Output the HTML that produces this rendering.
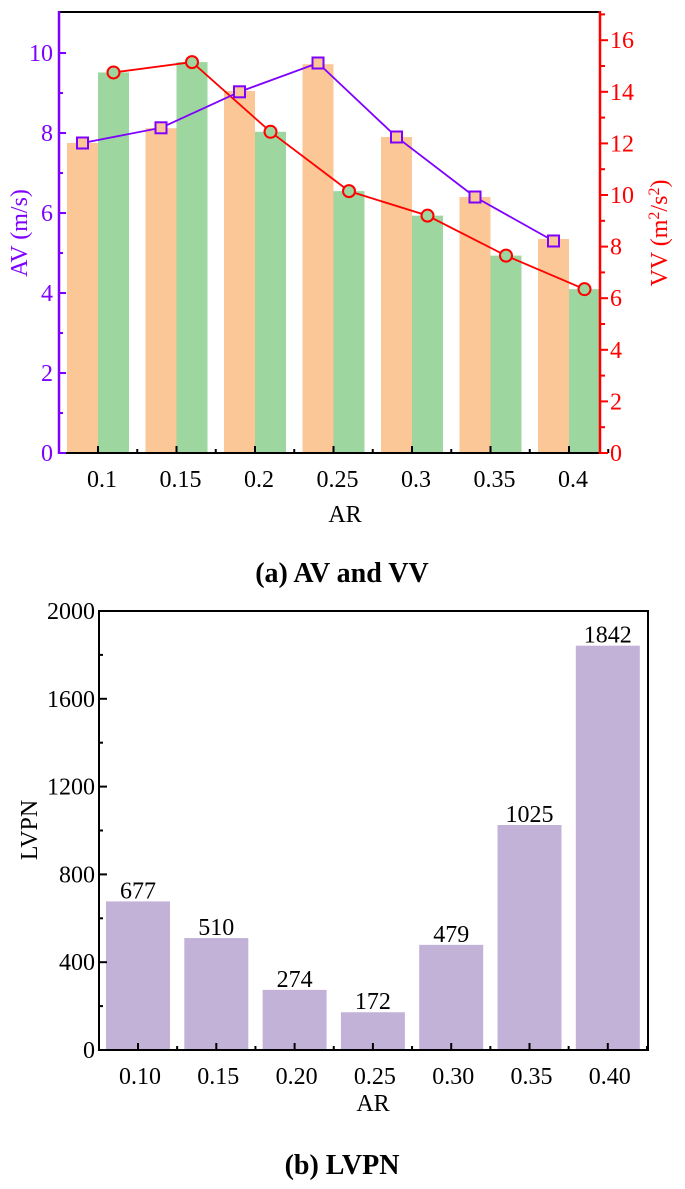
<!DOCTYPE html>
<html><head><meta charset="utf-8"><style>
html,body{margin:0;padding:0;background:#fff;}
svg{display:block;font-family:"Liberation Serif",serif;}
</style></head><body>
<svg id="c" width="685" height="1189" viewBox="0 0 685 1189"></svg>
<script>
const catsA=["0.1","0.15","0.2","0.25","0.3","0.35","0.4"];
const avBars=[7.75,8.12,9.05,9.72,7.9,6.4,5.35];
const avLine=[7.75,8.13,9.03,9.75,7.9,6.4,5.3];
const vvVals=[14.75,15.15,12.45,10.15,9.2,7.65,6.35];
const avTicks=[0,2,4,6,8,10];
const vvTicks=[0,2,4,6,8,10,12,14,16];
const catsB=["0.10","0.15","0.20","0.25","0.30","0.35","0.40"];
const lvpn=[677,510,274,172,479,1025,1842];
const lvpnTicks=[0,400,800,1200,1600,2000];

const NS="http://www.w3.org/2000/svg";
const svg=document.getElementById('c');
const FS=24;
function mk(tag,attrs,parent,txt){const e=document.createElementNS(NS,tag);for(const k in attrs)e.setAttribute(k,attrs[k]);if(txt!==undefined)e.textContent=txt;(parent||svg).appendChild(e);return e;}

// ---- chart A ----
const gA=mk('g',{});


const A={l:59,r:600,t:12,b:453};
const xA=i=>98+i*78.5;
const yL=v=>A.b-v*40;
const yR=v=>A.b-v*25.8;
const bw=31;
avBars.forEach((v,i)=>{const r=mk('rect',{x:xA(i)-bw,y:yL(v),width:bw,height:A.b-yL(v),fill:'#fbc796'},gA);

});
vvVals.forEach((v,i)=>{const r=mk('rect',{x:xA(i),y:yR(v),width:bw,height:A.b-yR(v),fill:'#9dd69f'},gA);

});
mk('line',{x1:A.l,y1:A.t,x2:A.r,y2:A.t,stroke:'#000','stroke-width':2},gA);
mk('line',{x1:A.l,y1:A.b,x2:A.r,y2:A.b,stroke:'#000','stroke-width':2},gA);
mk('line',{x1:A.l,y1:A.t-1,x2:A.l,y2:A.b+1,stroke:'#7f00ff','stroke-width':2.5},gA);
mk('line',{x1:A.r,y1:A.t-1,x2:A.r,y2:A.b+1,stroke:'#ff0000','stroke-width':2.5},gA);
catsA.forEach((c,i)=>{const x=xA(i);
mk('line',{x1:x,y1:A.b,x2:x,y2:A.b-7,stroke:'#000','stroke-width':2},gA);
mk('line',{x1:x+39.25,y1:A.b,x2:x+39.25,y2:A.b-4,stroke:'#000','stroke-width':2},gA);
const t=mk('text',{x:x+4,y:487,'font-size':FS,'text-anchor':'middle',fill:'#000'},gA,c);

});
const ax=mk('text',{x:345,y:522,'font-size':FS,'text-anchor':'middle',fill:'#000'},gA,'AR');


avTicks.forEach(v=>{const y=yL(v);
mk('line',{x1:A.l,y1:y,x2:A.l+7,y2:y,stroke:'#7f00ff','stroke-width':2},gA);
if(v<10)mk('line',{x1:A.l,y1:yL(v+1),x2:A.l+4,y2:yL(v+1),stroke:'#7f00ff','stroke-width':2},gA);
const t=mk('text',{x:A.l-6,y:y+8,'font-size':FS,'text-anchor':'end',fill:'#7f00ff'},gA,v);

});
vvTicks.forEach(v=>{const y=yR(v);
mk('line',{x1:A.r,y1:y,x2:A.r+8,y2:y,stroke:'#ff0000','stroke-width':2},gA);
mk('line',{x1:A.r,y1:yR(v+1),x2:A.r+5,y2:yR(v+1),stroke:'#ff0000','stroke-width':2},gA);
const t=mk('text',{x:A.r+10,y:y+8,'font-size':FS,'text-anchor':'start',fill:'#ff0000'},gA,v);

});
const yt=mk('text',{transform:'translate(27,233) rotate(-90)','font-size':FS,'text-anchor':'middle',fill:'#7f00ff'},gA,'AV (m/s)');


const yt2=mk('text',{transform:'translate(667,233) rotate(-90)','font-size':FS,'text-anchor':'middle',fill:'#ff0000'},gA);


mk('tspan',{},yt2,'VV (m');mk('tspan',{dy:-8,'font-size':16},yt2,'2');mk('tspan',{dy:8},yt2,'/s');mk('tspan',{dy:-8,'font-size':16},yt2,'2');mk('tspan',{dy:8},yt2,')');
const pv=mk('polyline',{points:vvVals.map((v,i)=>(xA(i)+bw/2)+','+yR(v)).join(' '),fill:'none',stroke:'#ff0000','stroke-width':1.8},gA);


const pa=mk('polyline',{points:avLine.map((v,i)=>(xA(i)-bw/2)+','+yL(v)).join(' '),fill:'none',stroke:'#7f00ff','stroke-width':1.8},gA);


vvVals.forEach((v,i)=>{const c=mk('circle',{cx:xA(i)+bw/2,cy:yR(v),r:6,fill:'#9dd69f',stroke:'#ff0000','stroke-width':2},gA);

});
avLine.forEach((v,i)=>{const r=mk('rect',{x:xA(i)-bw/2-5.5,y:yL(v)-5.5,width:11,height:11,fill:'#fbc796',stroke:'#7f00ff','stroke-width':2},gA);

});
const tA=mk('text',{x:342,y:582,'font-size':28,'font-weight':'bold','text-anchor':'middle',fill:'#000'},svg,'(a) AV and VV');



// ---- chart B ----
const gB=mk('g',{});


const B={l:99,r:648,t:611,b:1050};
const xB=i=>138+i*78.3;
const yB=v=>B.b-v/2000*(B.b-B.t);
lvpn.forEach((v,i)=>{const r=mk('rect',{x:xB(i)-32,y:yB(v),width:64,height:B.b-yB(v),fill:'#c2b2d8'},gB);


const t=mk('text',{x:xB(i),y:yB(v)-3,'font-size':FS,'text-anchor':'middle',fill:'#000'},gB,v);

});
mk('rect',{x:B.l,y:B.t,width:B.r-B.l,height:B.b-B.t,fill:'none',stroke:'#000','stroke-width':2},gB);
catsB.forEach((c,i)=>{const x=xB(i);
mk('line',{x1:x,y1:B.b,x2:x,y2:B.b-7,stroke:'#000','stroke-width':2},gB);
mk('line',{x1:x+39.15,y1:B.b,x2:x+39.15,y2:B.b-4,stroke:'#000','stroke-width':2},gB);
const t=mk('text',{x:x+2,y:1084,'font-size':FS,'text-anchor':'middle',fill:'#000'},gB,c);

});
const bx=mk('text',{x:373,y:1111,'font-size':FS,'text-anchor':'middle',fill:'#000'},gB,'AR');


lvpnTicks.forEach(v=>{const y=yB(v);
mk('line',{x1:B.l,y1:y,x2:B.l+8,y2:y,stroke:'#000','stroke-width':2},gB);
if(v<2000)mk('line',{x1:B.l,y1:yB(v+200),x2:B.l+4,y2:yB(v+200),stroke:'#000','stroke-width':2},gB);
const t=mk('text',{x:B.l-4,y:y+8,'font-size':FS,'text-anchor':'end',fill:'#000'},gB,v);

});
const by=mk('text',{transform:'translate(37,830) rotate(-90)','font-size':FS,'text-anchor':'middle',fill:'#000'},gB,'LVPN');


const tB=mk('text',{x:342,y:1174,'font-size':28,'font-weight':'bold','text-anchor':'middle',fill:'#000'},svg,'(b) LVPN');


</script>
</body></html>
